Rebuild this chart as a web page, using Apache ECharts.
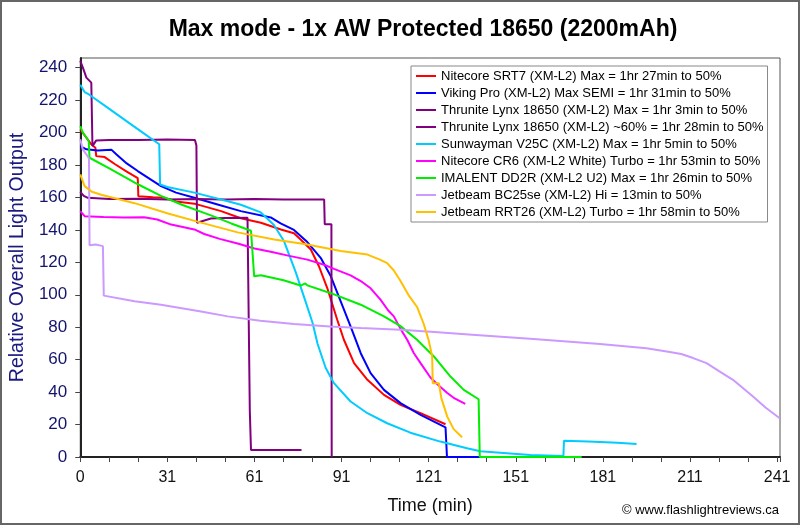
<!DOCTYPE html>
<html>
<head>
<meta charset="utf-8">
<script src="https://cdn.jsdelivr.net/npm/echarts@6/dist/echarts.min.js"></script>
<style>
html,body{margin:0;padding:0;background:#fff;}
#chart{width:800px;height:525px;}
</style>
</head>
<body>
<div id="chart"></div>
<script>
// ---- Data (time in minutes as plotted, relative output) ----
const xTickLabels = ['0','31','61','91','121','151','181','211','241'];

const seriesNames = [
  'Nitecore SRT7 (XM-L2) Max = 1hr 27min to 50%',
  'Viking Pro (XM-L2) Max SEMI = 1hr 31min to 50%',
  'Thrunite Lynx 18650 (XM-L2) Max = 1hr 3min to 50%',
  'Thrunite Lynx 18650 (XM-L2) ~60% = 1hr 28min to 50%',
  'Sunwayman V25C (XM-L2) Max = 1hr 5min to 50%',
  'Nitecore CR6 (XM-L2 White) Turbo = 1hr 53min to 50%',
  'IMALENT DD2R (XM-L2 U2) Max = 1hr 26min to 50%',
  'Jetbeam BC25se (XM-L2) Hi = 13min to 50%',
  'Jetbeam RRT26 (XM-L2) Turbo = 1hr 58min to 50%'
];

const srt7 = [[0,202],[0.3,202],[2.1,196.9],[3.8,192.8],[5.2,190.7],[5.5,185.5],[8.4,184.9],[12,180.5],[16,176],[19.8,172],[20,160.8],[25,160.2],[29,159.8],[33,157.5],[39.3,156.2],[48.5,151.6],[55.3,147.2],[62.2,144.4],[69.1,140.3],[73.6,138],[75.9,134.1],[79.4,127.9],[82.2,117.6],[85.1,104],[88.5,84.6],[90.8,72.3],[94.3,57.9],[98.9,47.6],[104.6,38.3],[110.3,32.1],[117.2,27],[125.8,20.2]];

const vikingPro = [[0,191.7],[2.1,189.7],[6,189],[10.7,189.5],[12.4,186.6],[16,181],[19.8,176.3],[27.8,167],[33,163],[39.3,159.8],[47.3,155.7],[55.3,151.6],[65.6,147.7],[69,144],[73.6,140],[78.2,132.5],[82.8,122.8],[86.3,111.4],[89.7,96],[93.1,80.5],[96.6,64],[100,51.7],[104.6,41.4],[110.3,33.2],[117.2,26],[125.8,18.3],[126.2,18],[126.3,0],[137.8,0]];

const lynxMax = [[0,244.2],[0.9,240.1],[2.1,233.9],[3.8,230.8],[4.1,230.5],[4.2,191.7],[5.5,195.2],[10,195.5],[20,195.4],[30,195.8],[39.5,195.5],[40,192],[40.2,144.4],[45,147],[50,147.3],[57.6,147.5],[58.2,147],[58.4,28],[58.8,4.3],[76.2,4.3]];

const lynx60 = [[0,163.5],[1.2,161],[2.6,159.8],[10,159],[20,159.2],[30,158.8],[40,159],[50,158.8],[60,159],[70,158.8],[84,158.8],[84.2,143.5],[86.5,143.5],[86.6,0]];

const v25c = [[0,229.5],[1.5,225],[3,223.5],[10,214.6],[16.4,206.5],[22,199.4],[27.2,192.8],[27.5,168],[30,166.5],[39.3,163],[50.8,157.7],[55.3,155.5],[62.2,150.8],[66.7,143],[70.2,133],[74.2,114],[77,99],[80,82.8],[81.7,70],[84.5,55],[87.3,45.7],[93.1,34.2],[98.9,27],[105.7,20.8],[113.7,15],[124,9.5],[133.2,5.4],[137.8,3.5],[155,1.2],[166.4,0.6],[166.6,10],[175,9.6],[185,8.8],[191.6,8]];

const cr6 = [[0,151.6],[1.5,148.5],[8,148],[15,147.6],[22,147.8],[26.5,146.4],[31.3,143.3],[39.3,140.3],[42.7,137.5],[48,134.5],[54.2,131.6],[60,128.5],[65.6,126.5],[72,124],[78.2,121.7],[84,118.5],[87.4,116],[93.1,112],[96.6,108.5],[100,104],[103.4,97],[106,90.5],[108,86.7],[110.3,79],[112.6,72.3],[114.9,64],[117.2,57.9],[120.6,49],[122.9,45],[126.4,39.5],[128.6,36.5],[132.6,32.7]];

const dd2r = [[0,204],[0.9,200],[2.1,197],[2.9,194.8],[3.2,184.5],[3.8,184.5],[10,178],[20,168],[27.8,161],[35,155.5],[45,149],[52,144],[58.8,139.5],[59.3,139],[59.9,111.4],[62.2,112],[70,109],[75.9,105.7],[77.5,107],[78.2,105.8],[86.3,101],[96.6,93.9],[104.6,86.7],[110.3,80.7],[116,72.3],[121.8,62],[127.5,49.6],[132.1,41.4],[137.2,35.6],[137.6,0],[172.7,0]];

const bc25se = [[0,195.9],[0.9,189.5],[2.1,186.6],[3,184],[3.2,130.5],[5.3,131],[7.8,130],[8.1,99.5],[18.7,96],[27.8,93.9],[41.6,89.7],[50.8,86.7],[62,84],[73.6,82],[86,80.5],[96.6,79.5],[110.3,78.5],[122,77],[135,75.4],[156.1,72.7],[179,69.6],[195,67],[202,65.1],[207,63.5],[211.1,61],[215.7,57.9],[220,53],[224.8,47.6],[231.7,37.3],[236,30.5],[240.9,23.9]];

const rrt26 = [[0,174.2],[1.5,167],[4,163.5],[7.5,161.5],[18.7,156.5],[30.5,150],[41.6,144.5],[54.2,138.5],[66.8,134.1],[78.2,131],[89.7,127],[98.9,124.8],[103.4,121.5],[105.7,119.5],[108,115],[110.3,108.5],[113,100],[116,92.5],[118.3,82],[120,72],[121.2,62],[121.4,45.5],[123.5,45.5],[124.4,36],[126.4,24.9],[128.6,17.2],[131.5,12.2]];

const seriesData = [srt7, vikingPro, lynxMax, lynx60, v25c, cr6, dd2r, bc25se, rrt26];
const seriesColors = ['#ff0000','#0000ff','#800080','#800080','#00ccff','#ff00ff','#00ee00','#cc99ff','#ffc000'];

const chart = echarts.init(document.getElementById('chart'), null, {renderer:'canvas'});
const FONT = 'Liberation Sans, Arial, sans-serif';

const option = {
  backgroundColor: '#ffffff',
  animation: false,
  textStyle: {fontFamily: FONT},
  grid: {left: 79, right: 20, top: 58, bottom: 68, show: true, borderColor: '#555', borderWidth: 1, backgroundColor: '#fff'},
  legend: {
    orient: 'vertical',
    left: 411, top: 66,
    itemWidth: 20, itemHeight: 10, itemGap: 3,
    padding: [3, 4, 3, 5],
    backgroundColor: '#fff',
    borderColor: '#888', borderWidth: 1,
    textStyle: {fontFamily: FONT, fontSize: 13, color: '#000', lineHeight: 14},
    data: seriesNames.map(n => ({name: n, icon: 'path://M0,4 L20,4 L20,6 L0,6 Z'}))
  },
  xAxis: {
    type: 'value', min: 0, max: 241, interval: 10,
    name: 'Time (min)', nameLocation: 'middle', nameGap: 40,
    nameTextStyle: {fontFamily: FONT, fontSize: 18, color: '#111'},
    axisLine: {show: true, lineStyle: {color: '#222', width: 2}},
    axisTick: {show: true, inside: false, length: 5, lineStyle: {color: '#444'}},
    axisLabel: {
      fontFamily: FONT, fontSize: 16, color: '#111', margin: 13,
      showMaxLabel: true,
      formatter: v => (Math.abs(v % 30) < 1e-6 && v / 30 < xTickLabels.length) ? xTickLabels[v / 30] : ''
    },
    splitLine: {show: false}
  },
  yAxis: {
    type: 'value', min: 0, max: 246, interval: 20,
    name: 'Relative Overall Light Output', nameLocation: 'middle', nameGap: 51, nameRotate: 90,
    nameTextStyle: {fontFamily: FONT, fontSize: 19.5, color: '#1a1a80'},
    axisLine: {show: true, lineStyle: {color: '#222', width: 2}},
    axisTick: {show: true, inside: false, length: 5, lineStyle: {color: '#444'}},
    axisLabel: {fontFamily: FONT, fontSize: 17, color: '#14146e', margin: 13, showMaxLabel: false},
    splitLine: {show: false}
  },
  series: seriesNames.map((n, i) => ({
    name: n, type: 'line', data: seriesData[i],
    showSymbol: false, symbol: 'none',
    lineStyle: {color: seriesColors[i], width: 2},
    itemStyle: {color: seriesColors[i]},
    z: 2 + i
  })),
  graphic: [
    {type: 'rect', shape: {x: 1, y: 1, width: 798, height: 523}, style: {fill: 'none', stroke: '#666', lineWidth: 2}, silent: true},
    {type: 'text', x: 423, y: 30, style: {text: 'Max mode - 1x AW Protected 18650 (2200mAh)', font: 'bold 23px Liberation Sans, Arial, sans-serif', fill: '#000', textAlign: 'center', textVerticalAlign: 'middle'}},
    {type: 'text', x: 779, y: 510, style: {text: '© www.flashlightreviews.ca', font: '13px Liberation Sans, Arial, sans-serif', fill: '#000', textAlign: 'right', textVerticalAlign: 'middle'}}
  ]
};
chart.setOption(option);
</script>
</body>
</html>
